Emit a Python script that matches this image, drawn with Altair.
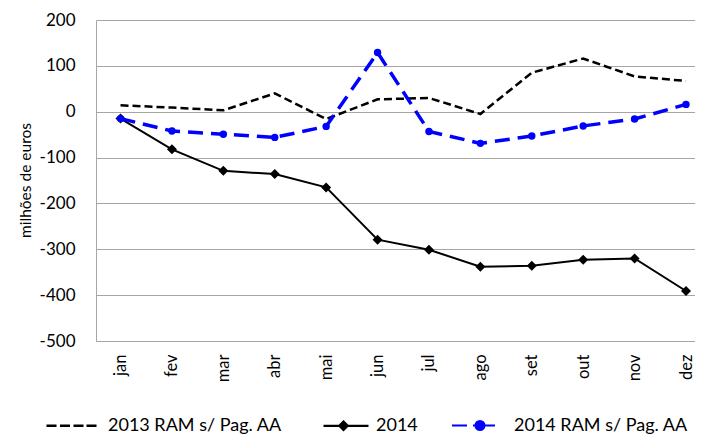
import altair as alt
import pandas as pd

months = ["jan", "fev", "mar", "abr", "mai", "jun", "jul", "ago", "set", "out", "nov", "dez"]
series_names = ["2013 RAM s/ Pag. AA", "2014", "2014 RAM s/ Pag. AA"]
ram2013 = [14, 9, 3, 40, -16, 27, 30, -5, 85, 116, 77, 67]
y2014 = [-15, -82, -129, -136, -165, -279, -301, -338, -336, -323, -320, -391]
ram2014 = [-15, -42, -49, -56, -32, 129, -43, -69, -53, -31, -16, 16]
y_ticks = [-500, -400, -300, -200, -100, 0, 100, 200]

rows = []
for name, vals in zip(series_names, [ram2013, y2014, ram2014]):
    for i, (m, v) in enumerate(zip(months, vals)):
        rows.append({"idx": i, "month": m, "series": name, "value": v})
df = pd.DataFrame(rows)

FONT = "Lato"
BLUE = "#0000ff"
month_array = "[" + ",".join("'%s'" % m for m in months) + "]"

legend_paths = [
    "M-0.967,0H-0.633M-0.517,0H-0.183M-0.067,0H0.267M0.367,0H0.7",
    "M-0.667,0H0.833M0,-0.14L0.14,0L0,0.14L-0.14,0Z",
    "M-1,0H-0.5M-0.3,0H0.433M0.083,0A0.15,0.15 0 1,1 -0.217,0A0.15,0.15 0 1,1 0.083,0Z",
]

base = alt.Chart(df).encode(
    x=alt.X(
        "idx:Q",
        scale=alt.Scale(domain=[-0.477, 11.175], nice=False, zero=False),
        axis=alt.Axis(
            title=None, values=list(range(len(months))), labelExpr=month_array + "[datum.value]",
            labelAngle=270, labelAlign="right", labelBaseline="middle",
            ticks=False, labelPadding=13,
            labelFont=FONT, labelFontSize=16.5, labelColor="black",
            domainColor="#a6a6a6", grid=False,
        ),
    ),
    y=alt.Y(
        "value:Q",
        scale=alt.Scale(domain=[-500, 200], nice=False),
        axis=alt.Axis(
            title="milhões de euros", values=y_ticks, ticks=False, labelPadding=21,
            labelFont=FONT, labelFontSize=17, labelColor="black",
            labelExpr="'' + datum.value",
            titleFont=FONT, titleFontSize=15.5, titleFontWeight="normal",
            titleColor="black", titleX=-71, titleY=160, titleAngle=270,
            titleAlign="center", titleBaseline="middle",
            gridColor="#a6a6a6", domainColor="#a6a6a6",
        ),
    ),
)

l1 = base.transform_filter(alt.datum.series == series_names[0]).mark_line(
    color="black", strokeWidth=2.5, strokeDash=[8, 4]
)
l2 = base.transform_filter(alt.datum.series == series_names[1]).mark_line(
    color="black", strokeWidth=2
)
p2 = base.transform_filter(alt.datum.series == series_names[1]).mark_point(
    shape="diamond", filled=True, color="black", size=100, opacity=1
)
l3 = base.transform_filter(alt.datum.series == series_names[2]).mark_line(
    color=BLUE, strokeWidth=3.5, strokeDash=[15, 8]
)
p3 = base.transform_filter(alt.datum.series == series_names[2]).mark_point(
    shape="circle", filled=True, color=BLUE, size=55, opacity=1
)

leg = alt.Legend(
    orient="none", legendX=-52, legendY=374, direction="horizontal", title=None,
    labelFont=FONT, labelFontSize=18, labelColor="black", symbolSize=3600,
    columnPadding=30, labelOffset=1, labelLimit=400, padding=0,
)

legend_layer = base.transform_filter("datum.value > 100000").mark_point(
    filled=True, opacity=1
).encode(
    shape=alt.Shape("series:N", scale=alt.Scale(domain=series_names, range=legend_paths), legend=leg),
    fill=alt.Fill("series:N", scale=alt.Scale(domain=series_names, range=["black", "black", BLUE]), legend=leg),
    stroke=alt.Stroke("series:N", scale=alt.Scale(domain=series_names, range=["black", "black", BLUE]), legend=leg),
    strokeWidth=alt.StrokeWidth("series:N", scale=alt.Scale(domain=series_names, range=[2.5, 2, 3.5]), legend=leg),
)

chart = alt.layer(l1, l2, p2, l3, p3, legend_layer).properties(
    width=599,
    height=321,
    autosize=alt.AutoSizeParams(type="none"),
    padding={"left": 88, "top": 12, "right": 0, "bottom": 95},
).configure_view(stroke=None)

chart.save("out.html", embed_options={"renderer": "svg", "actions": False})
